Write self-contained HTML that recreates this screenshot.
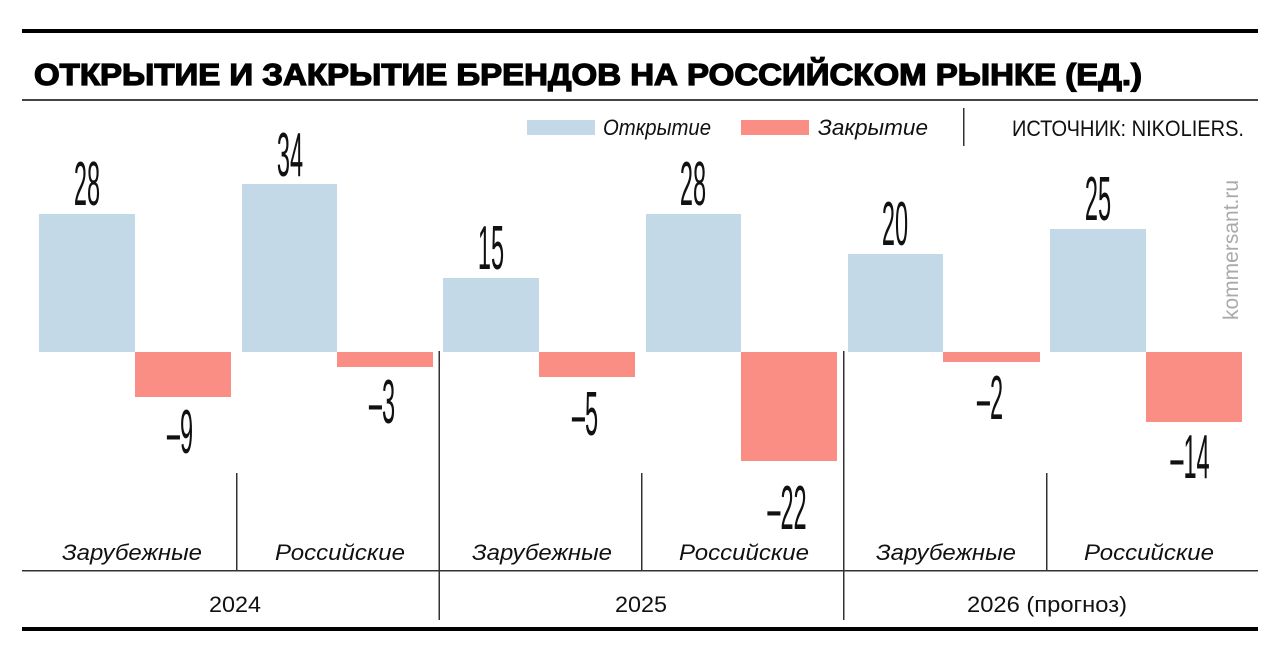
<!DOCTYPE html>
<html><head><meta charset="utf-8"><style>
body{margin:0;background:#fff;}
svg{display:block;}
.n{font-family:"Liberation Sans",sans-serif;font-size:62px;fill:#111;}
.c{font-family:"Liberation Sans",sans-serif;font-style:italic;font-size:22px;fill:#111;}
.y{font-family:"Liberation Sans",sans-serif;font-size:22px;fill:#111;}
</style></head><body>
<svg width="1280" height="658" viewBox="0 0 1280 658">
<rect x="22" y="29" width="1236" height="4" fill="#000"/>
<text x="34" y="85" font-family="Liberation Sans,sans-serif" font-weight="bold" font-size="31" fill="#000" stroke="#000" stroke-width="1.3" textLength="1108" lengthAdjust="spacingAndGlyphs">ОТКРЫТИЕ И ЗАКРЫТИЕ БРЕНДОВ НА РОССИЙСКОМ РЫНКЕ (ЕД.)</text>
<rect x="22" y="99" width="1236" height="2" fill="#444"/>
<rect x="527" y="120" width="68" height="15" fill="#c3d9e8"/>
<text x="603" y="135" class="c" textLength="108" lengthAdjust="spacingAndGlyphs">Открытие</text>
<rect x="741" y="120" width="68" height="15" fill="#fa8e84"/>
<text x="818" y="135" class="c" textLength="110" lengthAdjust="spacingAndGlyphs">Закрытие</text>
<rect x="963" y="108" width="1.5" height="38" fill="#333"/>
<text x="1012" y="136" class="y" font-size="20" textLength="232" lengthAdjust="spacingAndGlyphs">ИСТОЧНИК: NIKOLIERS.</text>
<text transform="translate(1238,320) rotate(-90)" font-family="Liberation Sans,sans-serif" font-size="21" fill="#aaa">kommersant.ru</text>
<g fill="#c3d9e8">
<rect x="39" y="214" width="96" height="138"/>
<rect x="242" y="184" width="95" height="168"/>
<rect x="443" y="278" width="96" height="74"/>
<rect x="646" y="214" width="95" height="138"/>
<rect x="848" y="254" width="95" height="98"/>
<rect x="1050" y="229" width="96" height="123"/>
</g>
<g fill="#fa8e84">
<rect x="135" y="352" width="96" height="45"/>
<rect x="337" y="352" width="96" height="15"/>
<rect x="539" y="352" width="96" height="25"/>
<rect x="741" y="352" width="96" height="109"/>
<rect x="943" y="352" width="97" height="10"/>
<rect x="1146" y="352" width="96" height="70"/>
</g>
<g class="n" text-anchor="middle">
<text transform="translate(87,205) scale(0.38,1)">28</text>
<text transform="translate(290,176) scale(0.38,1)">34</text>
<text transform="translate(491,269) scale(0.38,1)">15</text>
<text transform="translate(693,205) scale(0.38,1)">28</text>
<text transform="translate(895,245) scale(0.38,1)">20</text>
<text transform="translate(1098,220) scale(0.38,1)">25</text>
<text transform="translate(180,453) scale(0.38,1)">–9</text>
<text transform="translate(382,423) scale(0.38,1)">–3</text>
<text transform="translate(585,435) scale(0.38,1)">–5</text>
<text transform="translate(787,529) scale(0.38,1)">–22</text>
<text transform="translate(990,419) scale(0.38,1)">–2</text>
<text transform="translate(1190,478) scale(0.38,1)">–14</text>
</g>
<g fill="#333">
<rect x="236" y="473" width="1.5" height="98"/>
<rect x="438.5" y="351" width="1.5" height="269"/>
<rect x="641" y="473" width="1.5" height="98"/>
<rect x="843" y="351" width="1.5" height="269"/>
<rect x="1046" y="473" width="1.5" height="98"/>
<rect x="22" y="570" width="1236" height="1.5"/>
</g>
<g class="c" text-anchor="middle">
<text x="132" y="560" textLength="140" lengthAdjust="spacingAndGlyphs">Зарубежные</text>
<text x="340" y="560" textLength="130" lengthAdjust="spacingAndGlyphs">Российские</text>
<text x="542" y="560" textLength="140" lengthAdjust="spacingAndGlyphs">Зарубежные</text>
<text x="744" y="560" textLength="130" lengthAdjust="spacingAndGlyphs">Российские</text>
<text x="946" y="560" textLength="140" lengthAdjust="spacingAndGlyphs">Зарубежные</text>
<text x="1149" y="560" textLength="130" lengthAdjust="spacingAndGlyphs">Российские</text>
</g>
<g class="y" text-anchor="middle">
<text x="235" y="612" textLength="52" lengthAdjust="spacingAndGlyphs">2024</text>
<text x="641" y="612" textLength="52" lengthAdjust="spacingAndGlyphs">2025</text>
<text x="1047" y="612" textLength="160" lengthAdjust="spacingAndGlyphs">2026 (прогноз)</text>
</g>
<rect x="22" y="627" width="1236" height="4" fill="#000"/>
</svg>
</body></html>
